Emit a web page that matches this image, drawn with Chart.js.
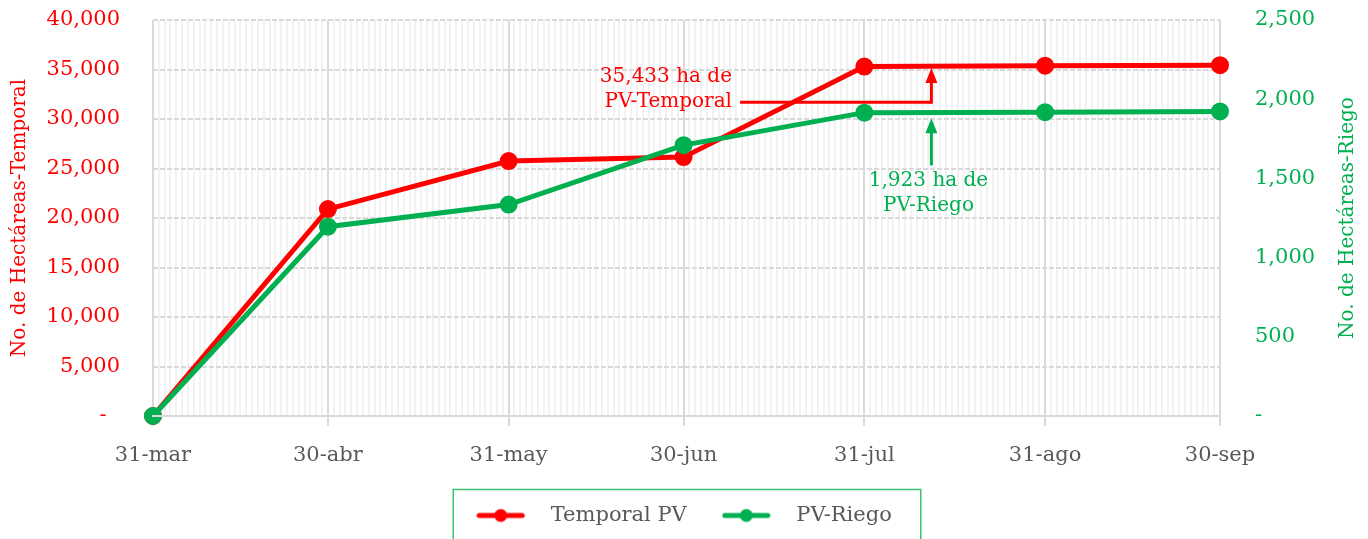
<!DOCTYPE html>
<html>
<head>
<meta charset="utf-8">
<script src="https://cdn.jsdelivr.net/npm/chart.js@4.4.0/dist/chart.umd.min.js"></script>
<style>
  html, body { margin: 0; padding: 0; background: #fff; }
  #wrap { width: 1368px; height: 539px; }
</style>
</head>
<body>
<div id="wrap"><canvas id="chart"></canvas></div>
<script>
var dateLabels = ['31-mar', '30-abr', '31-may', '30-jun', '31-jul', '31-ago', '30-sep'];
var dates = ['2021-03-31', '2021-04-30', '2021-05-31', '2021-06-30', '2021-07-31', '2021-08-31', '2021-09-30'];
var temporalPV = [0, 20900, 25750, 26150, 35300, 35380, 35433];
var riegoPV = [0, 1195, 1335, 1710, 1915, 1918, 1923];

var RED = '#ff0000';
var GREEN = '#00b050';
var GREY = '#595959';
var FONT = 'DejaVu Serif';

// day offsets from the first date
var days = dates.map(function(d) {
    return Math.round((Date.parse(d) - Date.parse(dates[0])) / 86400000);
});

function points(values) {
    return values.map(function(v, i) { return {x: days[i], y: v}; });
}

function fmt(v) {
    return v.toLocaleString('en-US');
}

// legend marker: line with a dot
function makeMarker(color) {
    var c = document.createElement('canvas');
    c.width = 64;
    c.height = 16;
    var g = c.getContext('2d');
    g.strokeStyle = color;
    g.lineWidth = 5;
    g.lineCap = 'round';
    g.beginPath();
    g.moveTo(3, 8);
    g.lineTo(46, 8);
    g.stroke();
    g.fillStyle = color;
    g.beginPath();
    g.arc(24.5, 8, 6.5, 0, Math.PI * 2);
    g.fill();
    return c;
}

function arrowUp(ctx, x, fromY, tipY, color) {
    ctx.strokeStyle = color;
    ctx.fillStyle = color;
    ctx.lineWidth = 3;
    ctx.beginPath();
    ctx.moveTo(x, fromY);
    ctx.lineTo(x, tipY + 12);
    ctx.stroke();
    ctx.beginPath();
    ctx.moveTo(x, tipY);
    ctx.lineTo(x - 6, tipY + 15);
    ctx.lineTo(x + 6, tipY + 15);
    ctx.closePath();
    ctx.fill();
}

var calloutPlugin = {
    id: 'callouts',
    afterDatasetsDraw: function(chart) {
        var ctx = chart.ctx;
        var xs = chart.scales.x, yl = chart.scales.y, yr = chart.scales.y1;
        var ax = xs.getPixelForValue(133.5);
        ctx.save();
        ctx.font = '20px "' + FONT + '"';
        ctx.textBaseline = 'middle';

        // Temporal
        var lineY = yl.getPixelForValue(31700);
        var startX = xs.getPixelForValue(100.7);
        ctx.strokeStyle = RED;
        ctx.lineWidth = 3;
        ctx.beginPath();
        ctx.moveTo(startX, lineY);
        ctx.lineTo(ax, lineY);
        ctx.stroke();
        arrowUp(ctx, ax, lineY + 1.5, yl.getPixelForValue(35150), RED);
        ctx.fillStyle = RED;
        ctx.textAlign = 'right';
        var tx = xs.getPixelForValue(99.3);
        ctx.fillText(fmt(temporalPV[temporalPV.length - 1]) + ' ha de', tx, yl.getPixelForValue(34230));
        ctx.fillText('PV-Temporal', tx, lineY);

        // Riego
        arrowUp(ctx, ax, yr.getPixelForValue(1582), yr.getPixelForValue(1880), GREEN);
        ctx.fillStyle = GREEN;
        ctx.textAlign = 'center';
        var gx = xs.getPixelForValue(133);
        ctx.fillText(fmt(riegoPV[riegoPV.length - 1]) + ' ha de', gx, yr.getPixelForValue(1487));
        ctx.fillText('PV-Riego', gx, yr.getPixelForValue(1329));
        ctx.restore();
    },
    afterDraw: function(chart) {
        // right axis title reads bottom to top
        var yr = chart.scales.y1, area = chart.chartArea, ctx = chart.ctx;
        ctx.save();
        ctx.translate(yr.right - 20, (area.top + area.bottom) / 2);
        ctx.rotate(-Math.PI / 2);
        ctx.font = '20px "' + FONT + '"';
        ctx.fillStyle = GREEN;
        ctx.textAlign = 'center';
        ctx.textBaseline = 'middle';
        ctx.fillText('No. de Hectáreas-Riego', 0, 0);
        ctx.restore();
    }
};

var legendBoxPlugin = {
    id: 'legendBox',
    afterDraw: function(chart) {
        var hb = chart.legend.legendHitBoxes;
        if (!hb || !hb.length) return;
        var left = Infinity, right = -Infinity, cy = hb[0].top + hb[0].height / 2;
        hb.forEach(function(h) {
            left = Math.min(left, h.left);
            right = Math.max(right, h.left + h.width);
        });
        var ctx = chart.ctx;
        ctx.save();
        ctx.strokeStyle = '#3dbf74';
        ctx.lineWidth = 1.5;
        ctx.strokeRect(left - 23, cy - 26, right - left + 23 + 29, 51);
        ctx.restore();
    }
};

var config = {
    type: 'line',
    data: {
        datasets: [{
            label: 'Temporal PV',
            data: points(temporalPV),
            yAxisID: 'y',
            borderColor: RED,
            backgroundColor: RED,
            pointBackgroundColor: RED,
            pointBorderColor: RED,
            borderWidth: 5,
            pointRadius: 6.5,
            pointHoverRadius: 6.5,
            order: 1,
            clip: false
        }, {
            label: 'PV-Riego',
            data: points(riegoPV),
            yAxisID: 'y1',
            borderColor: GREEN,
            backgroundColor: GREEN,
            pointBackgroundColor: GREEN,
            pointBorderColor: GREEN,
            borderWidth: 5,
            pointRadius: 6.5,
            pointHoverRadius: 6.5,
            order: 0,
            clip: false
        }]
    },
    options: {
        responsive: true,
        maintainAspectRatio: false,
        animation: false,
        layout: { padding: { top: 20, left: 0, right: 0, bottom: 3 } },
        plugins: {
            tooltip: { enabled: false },
            legend: {
                position: 'bottom',
                labels: {
                    usePointStyle: true,
                    pointStyleWidth: 64,
                    boxHeight: 16,
                    padding: 35,
                    color: GREY,
                    font: { family: FONT, size: 21 },
                    generateLabels: function(chart) {
                        return chart.data.datasets.map(function(ds, i) {
                            return {
                                text: ds.label,
                                pointStyle: makeMarker(ds.borderColor),
                                fillStyle: ds.borderColor,
                                strokeStyle: ds.borderColor,
                                lineWidth: 0,
                                hidden: false,
                                datasetIndex: i,
                                fontColor: GREY
                            };
                        });
                    }
                }
            }
        },
        scales: {
            x: {
                type: 'linear',
                min: 0,
                max: days[days.length - 1],
                afterBuildTicks: function(scale) {
                    var t = [];
                    for (var d = 0; d <= days[days.length - 1]; d++) t.push({value: d});
                    scale.ticks = t;
                },
                afterFit: function(scale) { scale.height = 54; },
                ticks: {
                    autoSkip: false,
                    maxRotation: 0,
                    padding: 17,
                    color: GREY,
                    font: { family: FONT, size: 21 },
                    callback: function(v) {
                        var i = days.indexOf(v);
                        return i >= 0 ? dateLabels[i] : '';
                    }
                },
                grid: {
                    color: function(c) { return days.indexOf(c.tick.value) >= 0 ? '#d9d9d9' : '#f2f2f2'; },
                    tickColor: function(c) { return days.indexOf(c.tick.value) >= 0 ? '#d9d9d9' : 'rgba(0,0,0,0)'; },
                    tickLength: 10,
                    lineWidth: 2
                },
                border: { display: true, color: '#d9d9d9', width: 2, z: 1 }
            },
            y: {
                position: 'left',
                min: 0,
                max: 40000,
                afterFit: function(scale) { scale.width = 153; },
                ticks: {
                    stepSize: 5000,
                    padding: 3,
                    color: RED,
                    font: { family: FONT, size: 21 },
                    callback: function(v) { return v === 0 ? '-  ' : fmt(v); }
                },
                grid: { color: '#d9d9d9', lineWidth: 2, drawTicks: true, tickLength: 30, tickColor: 'rgba(0,0,0,0)' },
                border: { display: false, dash: [5, 2] },
                title: {
                    display: true,
                    text: 'No. de Hectáreas-Temporal',
                    color: RED,
                    font: { family: FONT, size: 20 },
                    padding: { top: 8, bottom: 4 }
                }
            },
            y1: {
                position: 'right',
                min: 0,
                max: 2500,
                afterFit: function(scale) { scale.width = 148; },
                ticks: {
                    stepSize: 500,
                    padding: 3,
                    color: GREEN,
                    font: { family: FONT, size: 21 },
                    callback: function(v) { return v === 0 ? '-' : fmt(v); }
                },
                grid: { drawOnChartArea: false, drawTicks: true, tickLength: 32, tickColor: 'rgba(0,0,0,0)' },
                border: { display: false }
            }
        }
    },
    plugins: [calloutPlugin, legendBoxPlugin]
};

var ctx = document.getElementById('chart');
window.myChart = new Chart(ctx, config);
</script>
</body>
</html>
